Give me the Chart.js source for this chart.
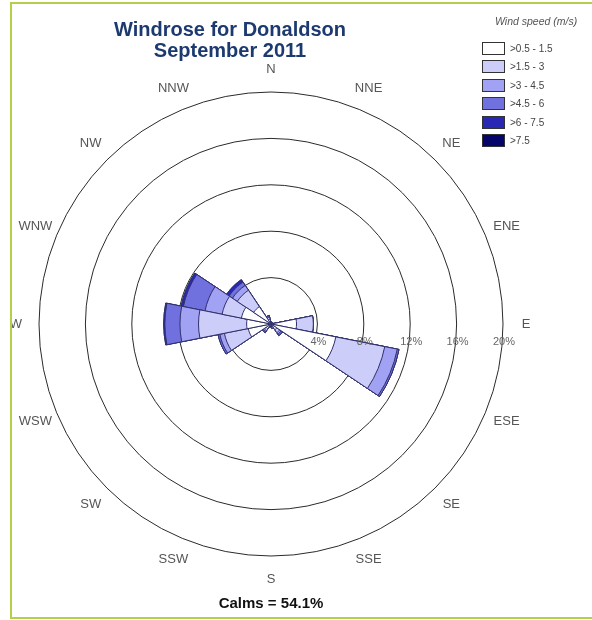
<!DOCTYPE html>
<html>
<head>
<meta charset="utf-8">
<title>Windrose for Donaldson - September 2011</title>
<script src="https://cdn.jsdelivr.net/npm/chart.js@4.4.1/dist/chart.umd.min.js"></script>
<style>
  html, body { margin: 0; padding: 0; background: #ffffff; }
  #page { position: relative; width: 592px; height: 620px; overflow: hidden;
          font-family: "Liberation Sans", Arial, sans-serif; }
  #plot { position: absolute; left: 0; top: 0; width: 592px; height: 620px; }
  #title { position: absolute; left: 0; top: 19px; width: 460px; text-align: center;
           font: bold 20px/21px "Liberation Sans", Arial, sans-serif; color: #1d3a70; }
  #legendTitle { position: absolute; left: 495px; top: 15px; font: italic 10.5px "Liberation Sans", Arial, sans-serif;
                 color: #555; white-space: nowrap; }
  .swatch { position: absolute; left: 482px; width: 21px; height: 11px; border: 1px solid #333; }
  .swlabel { position: absolute; left: 510px; font: 10px "Liberation Sans", Arial, sans-serif; color: #444;
             white-space: nowrap; line-height: 13px; }
  .frame { position: absolute; background: #b4cf4a; }
</style>
</head>
<body>
<div id="page">
  <div id="plot"><canvas id="rose"></canvas></div>
  <div id="title">Windrose for Donaldson<br>September 2011</div>
  <div id="legendTitle">Wind speed (m/s)</div>
  <div id="legend"></div>
  <div class="frame" style="left:10px;top:2px;width:582px;height:2px;"></div>
  <div class="frame" style="left:10px;top:2px;width:2px;height:617px;"></div>
  <div class="frame" style="left:10px;top:617px;width:582px;height:2px;"></div>
</div>
<script>
// Compass sectors, clockwise from north
const directions = ['N', 'NNE', 'NE', 'ENE', 'E', 'ESE', 'SE', 'SSE',
                    'S', 'SSW', 'SW', 'WSW', 'W', 'WNW', 'NW', 'NNW'];

// Wind speed classes (m/s)
const speedClasses = ['>0.5 - 1.5', '>1.5 - 3', '>3 - 4.5', '>4.5 - 6', '>6 - 7.5', '>7.5'];
const speedColors  = ['#ffffff', '#cdcdf9', '#a2a2f4', '#7070de', '#2828b4', '#05056a'];

// Frequency (% of all hours) per direction for each speed class
const freq05to15 = [0.2, 0.1, 0.1, 0.2, 2.2, 5.7, 0.6, 0.3, 0.15, 0.3, 0.5, 2.0, 2.1, 2.6, 1.8, 0.4];
const freq15to3  = [0,   0,   0,   0,   1.45, 4.3, 0.3, 0.1, 0,   0,   0.2, 2.1, 4.15, 1.7, 1.7, 0.2];
const freq3to45  = [0,   0,   0,   0,   0,   1.1, 0.15, 0,  0,   0,   0.1, 0.4, 1.6, 1.5, 0.5, 0.1];
const freq45to6  = [0,   0,   0,   0,   0,   0.15, 0.15, 0, 0,   0,   0.1, 0.15, 1.3, 1.9, 0.35, 0.05];
const freq6to75  = [0,   0,   0,   0,   0,   0,   0,   0,   0,   0,   0,   0,   0.1, 0.2, 0.25, 0];
const freqOver75 = [0,   0,   0,   0,   0,   0,   0,   0,   0,   0,   0,   0,   0,   0,   0,   0];

const calmsPercent = 54.1;

// Radial axis rings (percent)
const ringMax = 20;
const ringStep = 4;

// Each petal is stacked: a class is drawn out to the running total of itself and all slower classes.
const classSeries = [freq05to15, freq15to3, freq3to45, freq45to6, freq6to75, freqOver75];
const running = directions.map(() => 0);
const datasets = classSeries.map((series, k) => {
  const cumulative = series.map((v, i) => (running[i] = +(running[i] + v).toFixed(3)));
  return {
    label: speedClasses[k],
    data: cumulative,
    backgroundColor: speedColors[k],
    borderColor: '#30306c',
    borderWidth: 1
  };
});

const labelFont = '"Liberation Sans", Arial, sans-serif';

// Percent labels along the east axis, and compass names centred just outside the outer ring
const roseLabels = {
  id: 'roseLabels',
  afterDatasetsDraw(chart) {
    const r = chart.scales.r;
    const ctx = chart.ctx;
    ctx.save();
    ctx.textAlign = 'center';
    ctx.textBaseline = 'middle';

    ctx.font = '11px ' + labelFont;
    ctx.fillStyle = '#666666';
    r.ticks.forEach(t => {
      if (t.value <= 0) return;
      const d = r.getDistanceFromCenterForValue(t.value);
      ctx.fillText(t.label, r.xCenter + d + 1, r.yCenter + 18);
    });

    ctx.font = '13px ' + labelFont;
    ctx.fillStyle = '#555555';
    const labelDistance = r.drawingArea + 23;
    chart.data.labels.forEach((name, i) => {
      const p = r.getPointPosition(i, labelDistance, Math.PI / chart.data.labels.length);
      ctx.fillText(name, p.x, p.y);
    });
    ctx.restore();
  }
};

const chart = new Chart(document.getElementById('rose'), {
  type: 'polarArea',
  data: { labels: directions, datasets: datasets },
  options: {
    responsive: true,
    maintainAspectRatio: false,
    animation: false,
    layout: { padding: { left: 39, right: 89, top: 92, bottom: 0 } },
    plugins: {
      legend: { display: false },
      tooltip: { enabled: false },
      subtitle: {
        display: true,
        position: 'bottom',
        text: 'Calms = ' + calmsPercent.toFixed(1) + '%',
        color: '#111111',
        font: { family: labelFont, size: 15, weight: 'bold', lineHeight: 1.2 },
        padding: { top: 39, bottom: 7 }
      }
    },
    scales: {
      r: {
        min: 0,
        max: ringMax,
        startAngle: -11.25,
        angleLines: { display: false },
        grid: { display: true, circular: true, color: '#2a2a2a', lineWidth: 1 },
        ticks: { display: false, stepSize: ringStep, callback: v => v + '%' },
        pointLabels: { display: false }
      }
    }
  },
  plugins: [roseLabels]
});

// Speed-class key built from the chart's datasets
const legend = document.getElementById('legend');
chart.data.datasets.forEach((ds, i) => {
  const top = 42 + i * 18.4;
  const sw = document.createElement('div');
  sw.className = 'swatch';
  sw.style.top = top + 'px';
  sw.style.background = ds.backgroundColor;
  legend.appendChild(sw);
  const lb = document.createElement('div');
  lb.className = 'swlabel';
  lb.style.top = top + 'px';
  lb.textContent = ds.label;
  legend.appendChild(lb);
});
</script>
</body>
</html>
